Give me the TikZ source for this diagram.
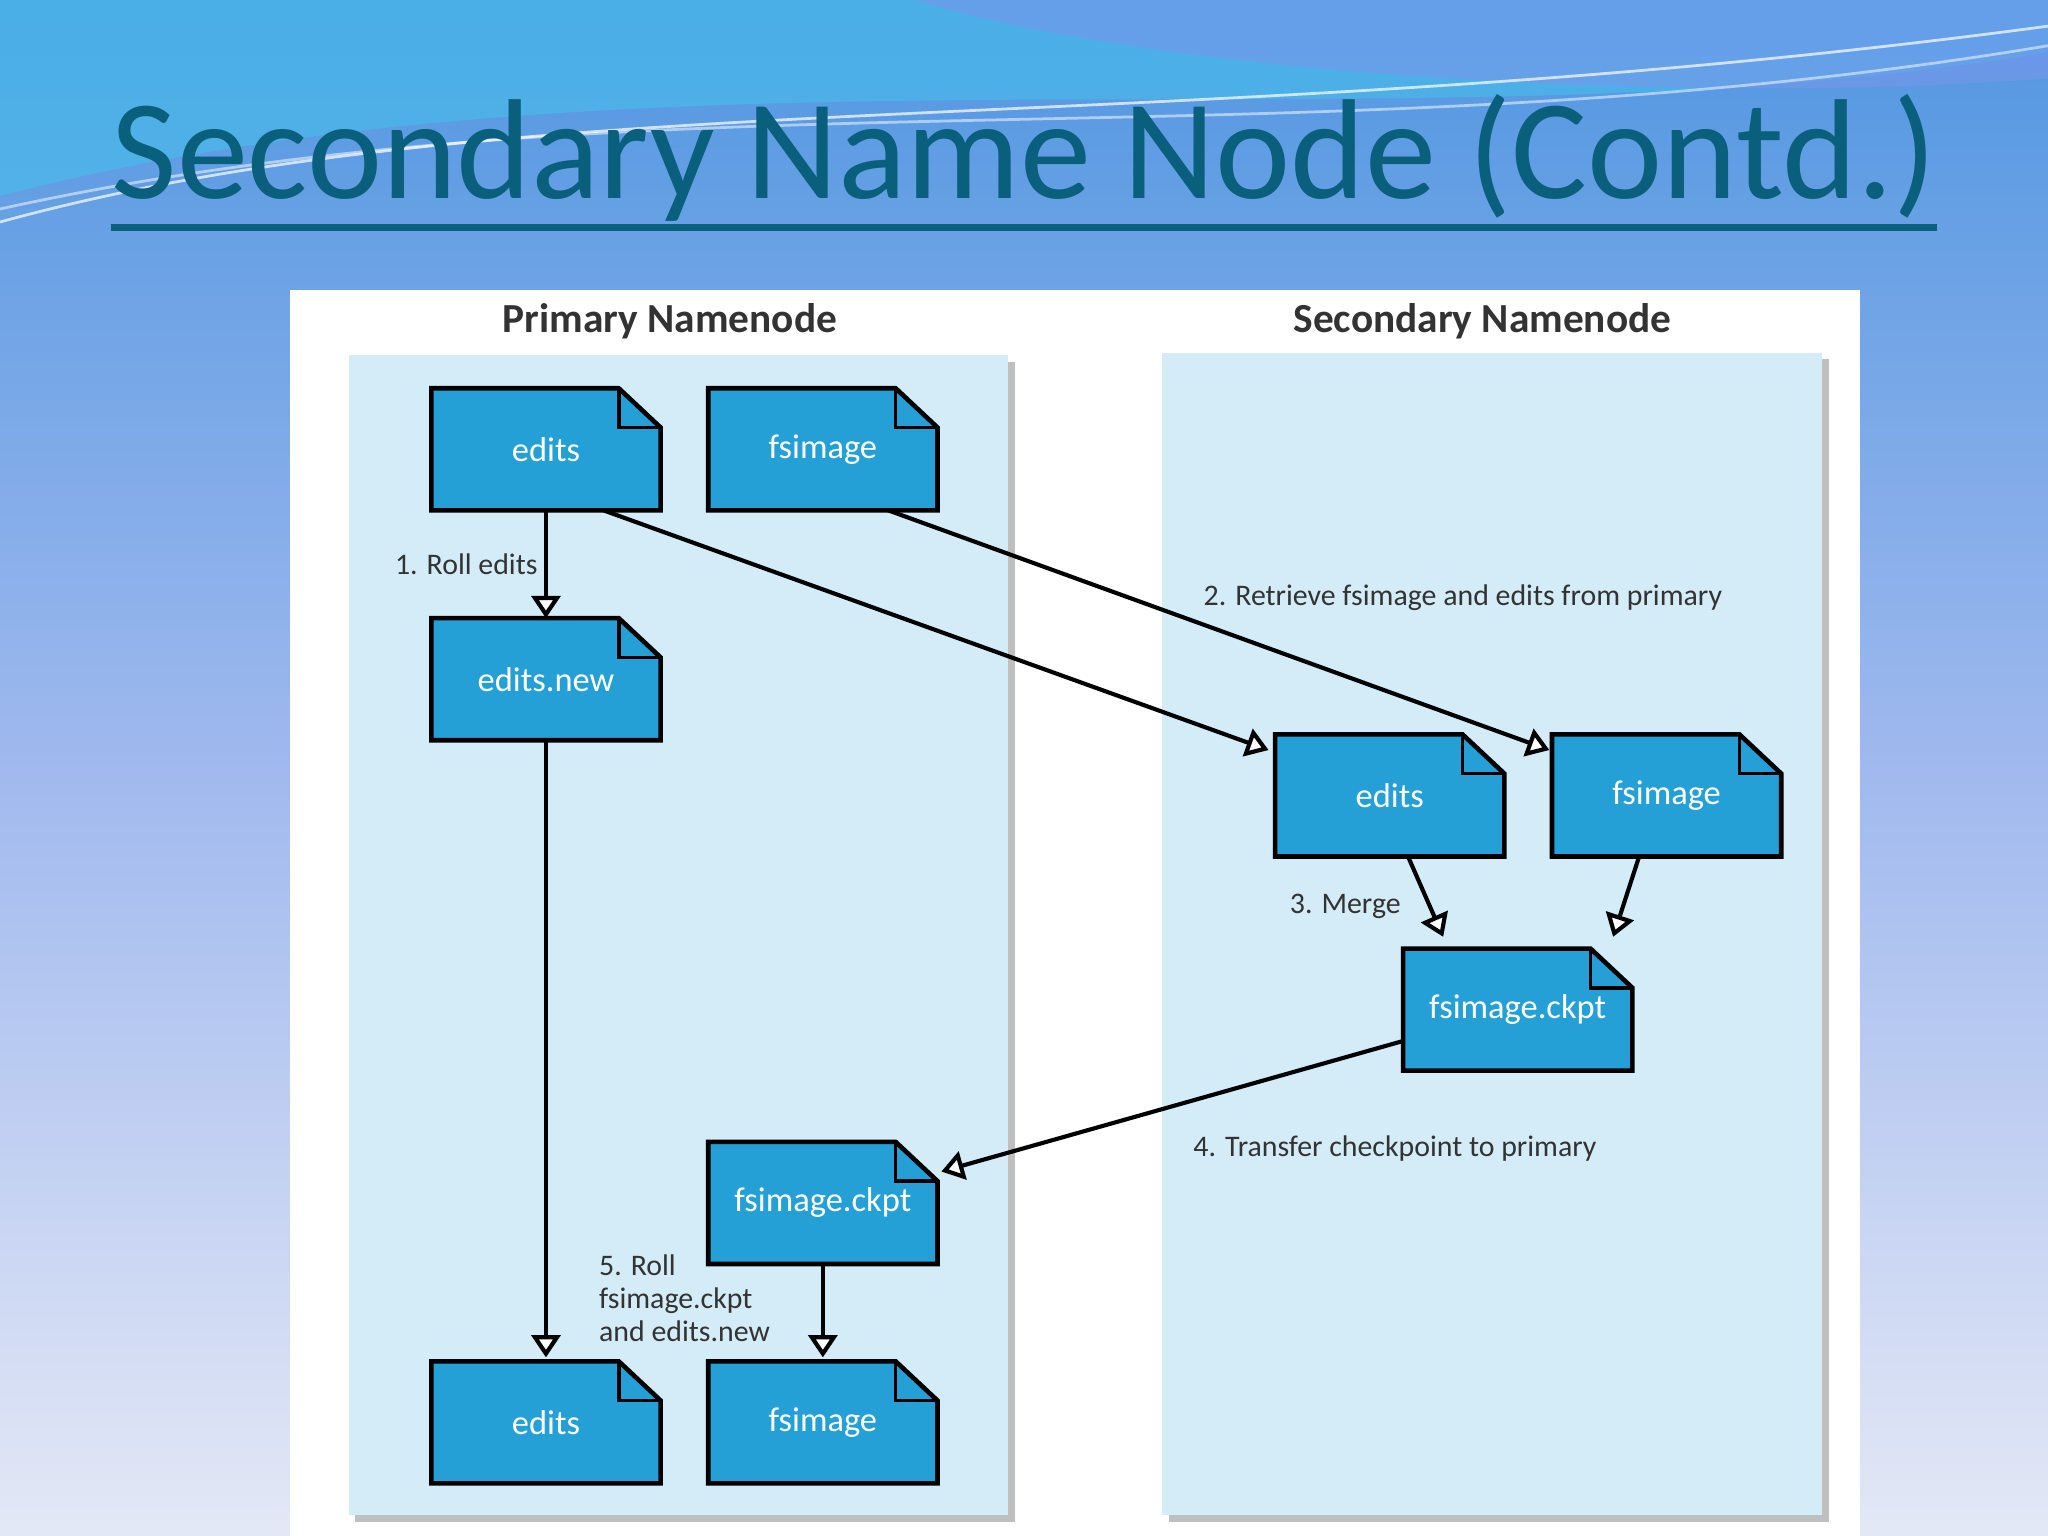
\documentclass[tikz,border=0pt]{standalone}
\usepackage{fontspec}
\setmainfont{Carlito}
\usetikzlibrary{arrows.meta}
\pgfdeclarelayer{bg}\pgfsetlayers{bg,main}
\definecolor{docblue}{RGB}{36,160,214}
\definecolor{panel}{RGB}{212,236,247}
\definecolor{titlec}{RGB}{10,95,125}
\definecolor{bgtop}{RGB}{80,150,225}
\definecolor{bgmid}{RGB}{160,185,238}
\definecolor{bgbot}{RGB}{228,232,246}
\definecolor{wave1}{RGB}{70,190,235}
\definecolor{wave2}{RGB}{120,150,235}
\begin{document}
\begin{tikzpicture}[x=0.01cm,y=-0.01cm,
  doc/.style={minimum width=1.74cm,minimum height=0.92cm,text=white,font=\fontsize{7.5}{9}\selectfont,inner sep=0pt},
  lab/.style={font=\fontsize{6.5}{7.2}\selectfont,text=black!80},
  hdr/.style={font=\bfseries\fontsize{9}{10}\selectfont,text=black!80},
  arr/.style={line width=0.9pt,-{Triangle[length=0.17cm,width=0.22cm,fill=white]}}]
\useasboundingbox (0,0) rectangle (1568,1176);
\begin{pgfonlayer}{bg}
\shade[top color=bgtop,bottom color=bgbot,middle color=bgmid] (0,0) rectangle (1568,1176);
\fill[wave1,opacity=0.6] (0,0) -- (1568,0) -- (1568,40) .. controls (1100,120) and (500,20) .. (0,150) -- cycle;
\fill[wave2,opacity=0.6] (700,0) .. controls (900,60) and (1300,80) .. (1568,60) -- (1568,0) -- cycle;
\draw[white,opacity=0.7,line width=0.6pt] (0,170) .. controls (400,60) and (900,110) .. (1568,20);
\draw[white,opacity=0.5,line width=0.6pt] (0,160) .. controls (500,50) and (1000,130) .. (1568,35);
\fill[white] (222,222) rectangle (1424,1176);
\fill[black!25] (272,277) rectangle (777,1165);
\fill[black!25] (895,275) rectangle (1400,1165);
\fill[panel] (267,272) rectangle (772,1160);
\fill[panel] (890,270) rectangle (1395,1160);
\end{pgfonlayer}
\node[font=\fontsize{31}{34}\selectfont,text=titlec,anchor=base,inner sep=0pt] (title) at (784,152) {Secondary Name Node (Contd.)};
\draw[titlec,line width=1.6pt] ([yshift=-0.22cm]title.base west) -- ([yshift=-0.22cm]title.base east);
\node[hdr] (h1) at (513,246) {Primary Namenode};
\node[hdr] (h2) at (1135,246) {Secondary Namenode};
\node[doc] (pe) at (418,344) {edits};
\node[doc] (pf) at (630,344) {fsimage};
\node[doc] (pn) at (418,520) {edits.new};
\node[doc] (se) at (1064,609) {edits};
\node[doc] (sf) at (1276,609) {fsimage};
\node[doc] (sc) at (1162,773) {fsimage.ckpt};
\node[doc] (pc) at (630,921) {fsimage.ckpt};
\node[doc] (be) at (418,1089) {edits};
\node[doc] (bf) at (630,1089) {fsimage};
\begin{pgfonlayer}{bg}
\foreach \n in {pe,pf,pn,se,sf,sc,pc,be,bf}{
 \draw[fill=docblue,line width=1pt] (\n.south west) -- (\n.north west) -- ([xshift=-0.32cm]\n.north east) -- ([yshift=-0.3cm]\n.north east) -- (\n.south east) -- cycle;
 \draw[line width=0.8pt] ([xshift=-0.32cm]\n.north east) -- ([xshift=-0.32cm,yshift=-0.3cm]\n.north east) -- ([yshift=-0.3cm]\n.north east);
}
\end{pgfonlayer}
\draw[arr] (pe.south) -- (pn.north);
\draw[arr] ([xshift=0.44cm]pe.south) -- ([xshift=-0.05cm,yshift=-0.12cm]se.north west);
\draw[arr] ([xshift=0.5cm]pf.south) -- ([xshift=-0.02cm,yshift=-0.12cm]sf.north west);
\draw[arr] ([xshift=0.14cm]se.south) -- ([xshift=-0.57cm,yshift=0.09cm]sc.north);
\draw[arr] ([xshift=-0.21cm]sf.south) -- ([xshift=0.73cm,yshift=0.09cm]sc.north);
\draw[arr] ([yshift=-0.24cm]sc.west) -- ([xshift=0.03cm,yshift=0.24cm]pc.east);
\draw[arr] (pn.south) -- ([yshift=0.03cm]be.north);
\draw[arr] (pc.south) -- ([yshift=0.03cm]bf.north);
\node[lab] (l1) at (357,432) {1. Roll edits};
\node[lab] (l2) at (1120,458) {2. Retrieve fsimage and edits from primary};
\node[lab] (l3) at (1030,694) {3. Merge};
\node[lab] (l4) at (1068,879) {4. Transfer checkpoint to primary};
\node[lab,align=left,anchor=north west,inner sep=0pt] (l5) at (458,960) {5. Roll\\fsimage.ckpt\\and edits.new};
\end{tikzpicture}
\end{document}
